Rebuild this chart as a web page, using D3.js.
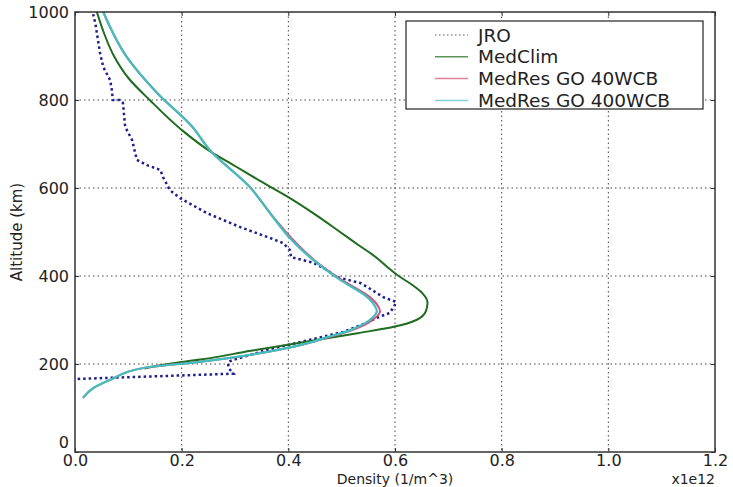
<!DOCTYPE html>
<html>
<head>
<meta charset="utf-8">
<script src="https://cdn.jsdelivr.net/npm/d3@7"></script>
<style>
  body { margin: 0; background: #fff; }
  svg { display: block; font-family: "DejaVu Sans", sans-serif; }
</style>
</head>
<body>
<div id="chart"></div>
<script>
// density values are in units of 1e12 per m^3, altitude in km
var jroAlt = [166, 170, 174, 178, 182, 193, 205, 209, 232, 259, 273, 295, 305, 316, 330, 341, 352, 375, 384, 398, 414, 430, 443, 459, 475, 489, 511, 543, 577, 595, 625, 641, 652, 664, 709, 739, 793, 800, 800, 823, 845, 875, 906, 952, 975, 995];
var jroDen = [0.005, 0.10, 0.20, 0.297, 0.294, 0.287, 0.288, 0.296, 0.36, 0.454, 0.503, 0.55, 0.566, 0.59, 0.598, 0.602, 0.578, 0.548, 0.535, 0.49, 0.472, 0.447, 0.405, 0.403, 0.39, 0.36, 0.31, 0.247, 0.197, 0.178, 0.165, 0.16, 0.135, 0.116, 0.107, 0.094, 0.09, 0.084, 0.071, 0.069, 0.066, 0.053, 0.047, 0.041, 0.038, 0.034];

var climAlt = [190, 200, 210, 230, 250, 270, 285, 300, 320, 340, 360, 380, 400, 420, 441, 470, 500, 540, 577, 616, 650, 682, 732, 800, 850, 900, 950, 1000];
var climDen = [0.13, 0.175, 0.235, 0.33, 0.43, 0.53, 0.60, 0.64, 0.658, 0.661, 0.652, 0.632, 0.607, 0.586, 0.566, 0.532, 0.497, 0.45, 0.403, 0.347, 0.30, 0.255, 0.20, 0.14, 0.10, 0.073, 0.055, 0.041];

var go400Alt = [123, 145, 164, 191, 205, 243, 260, 277, 290, 307, 320, 330, 352, 391, 436, 486, 534, 602, 686, 739, 816, 898, 1000];
var go400Den = [0.015, 0.034, 0.066, 0.128, 0.234, 0.422, 0.47, 0.516, 0.54, 0.559, 0.566, 0.563, 0.548, 0.497, 0.447, 0.403, 0.371, 0.328, 0.253, 0.22, 0.154, 0.097, 0.053];

var go40Alt = go400Alt;
var go40Den = [0.015, 0.034, 0.066, 0.128, 0.234, 0.424, 0.473, 0.52, 0.545, 0.565, 0.572, 0.569, 0.553, 0.50, 0.449, 0.406, 0.372, 0.328, 0.253, 0.22, 0.154, 0.097, 0.053];

var xTicks = [0, 0.2, 0.4, 0.6, 0.8, 1.0, 1.2];
var yTicks = [0, 200, 400, 600, 800, 1000];

var margin = {top: 12, left: 75, bottom: 35, right: 18},
    width = 733 - margin.left - margin.right,
    height = 487 - margin.top - margin.bottom;

var svg = d3.select("#chart")
    .append("svg")
        .attr("width", 733)
        .attr("height", 487)
    .append("g")
        .attr("transform", "translate(" + margin.left + "," + margin.top + ")");

var x = d3.scaleLinear().domain([0, 1.2]).range([0, width]);
var y = d3.scaleLinear().domain([0, 1000]).range([height, 0]);

// grid
svg.selectAll(".vgrid")
    .data(xTicks.slice(1, -1))
    .enter().append("line")
        .attr("x1", function(d) { return x(d); })
        .attr("x2", function(d) { return x(d); })
        .attr("y1", 0).attr("y2", height)
        .style("stroke", "#444").style("stroke-width", 1)
        .style("stroke-dasharray", "1.5,3");
svg.selectAll(".hgrid")
    .data(yTicks.slice(1, -1))
    .enter().append("line")
        .attr("y1", function(d) { return y(d); })
        .attr("y2", function(d) { return y(d); })
        .attr("x1", 0).attr("x2", width)
        .style("stroke", "#444").style("stroke-width", 1)
        .style("stroke-dasharray", "1.5,3");

function pts(alt, den) {
    return alt.map(function(a, i) { return [den[i], a]; });
}

var smooth = d3.line()
    .x(function(d) { return x(d[0]); })
    .y(function(d) { return y(d[1]); })
    .curve(d3.curveMonotoneY);
var straight = d3.line()
    .x(function(d) { return x(d[0]); })
    .y(function(d) { return y(d[1]); });

svg.append("path")
    .attr("d", straight(pts(jroAlt, jroDen)))
    .style("fill", "none").style("stroke", "#1e1e8e")
    .style("stroke-width", 2.5).style("stroke-dasharray", "2.5,3");
svg.append("path")
    .attr("d", smooth(pts(climAlt, climDen)))
    .style("fill", "none").style("stroke", "#1f6b1f").style("stroke-width", 2);
svg.append("path")
    .attr("d", smooth(pts(go40Alt, go40Den)))
    .style("fill", "none").style("stroke", "#d9507a").style("stroke-width", 2);
svg.append("path")
    .attr("d", smooth(pts(go400Alt, go400Den)))
    .style("fill", "none").style("stroke", "#3fbfbf").style("stroke-width", 2.2);

// axes with inward ticks on all sides
var ax = svg.append("g").attr("transform", "translate(0," + height + ")")
    .call(d3.axisBottom(x).tickValues(xTicks).tickSizeInner(-4).tickSizeOuter(0).tickPadding(8)
        .tickFormat(d3.format(".1f")));
var ay = svg.append("g")
    .call(d3.axisLeft(y).tickValues(yTicks).tickSizeInner(-4).tickSizeOuter(0).tickPadding(6)
        .tickFormat(d3.format("d")));
var at = svg.append("g")
    .call(d3.axisTop(x).tickValues(xTicks).tickSizeInner(-4).tickSizeOuter(0).tickFormat(""));
var ar = svg.append("g").attr("transform", "translate(" + width + ",0)")
    .call(d3.axisRight(y).tickValues(yTicks).tickSizeInner(-4).tickSizeOuter(0).tickFormat(""));
[ax, ay, at, ar].forEach(function(a) {
    a.select(".domain").remove();
    a.selectAll("line").style("stroke", "#333");
    a.selectAll("text").style("font-size", "16px").style("fill", "#222")
        .style("font-family", "DejaVu Sans, sans-serif");
});
ax.selectAll("text").attr("dy", "0.4em");
ay.selectAll("text").filter(function(d) { return d === 0; }).attr("dy", "-0.3em");

svg.append("rect")
    .attr("width", width).attr("height", height)
    .style("fill", "none").style("stroke", "#333").style("stroke-width", 1.5);

// labels
svg.append("text")
    .attr("x", width / 2).attr("y", height + 32)
    .attr("text-anchor", "middle")
    .style("font-size", "14px").style("fill", "#222")
    .text("Density (1/m^3)");
svg.append("text")
    .attr("x", width).attr("y", height + 32)
    .attr("text-anchor", "end")
    .style("font-size", "14px").style("fill", "#222")
    .text("x1e12");
svg.append("text")
    .attr("transform", "translate(-53," + (height / 2) + ") rotate(-90)")
    .attr("text-anchor", "middle")
    .style("font-size", "15px").style("fill", "#222")
    .text("Altitude (km)");

// legend
var legendNames = ["JRO", "MedClim", "MedRes GO 40WCB", "MedRes GO 400WCB"];
var legendColors = ["#8a8ab8", "#5a945a", "#e0809c", "#7fd0d0"];
var lg = svg.append("g").attr("transform", "translate(" + (406 - margin.left) + "," + (21 - margin.top) + ")");
lg.append("rect")
    .attr("width", 297).attr("height", 88)
    .style("fill", "#fff").style("stroke", "#222").style("stroke-width", 1.2);
var rows = lg.selectAll(".lrow")
    .data(legendNames)
    .enter().append("g")
        .attr("transform", function(d, i) { return "translate(0," + (14 + i * 21.8) + ")"; });
rows.append("line")
    .attr("x1", 29).attr("x2", 62)
    .style("stroke", function(d, i) { return legendColors[i]; })
    .style("stroke-width", 1.5)
    .style("stroke-dasharray", function(d, i) { return i === 0 ? "1.5,2.5" : null; });
rows.append("text")
    .attr("x", 72).attr("dy", "0.36em")
    .style("font-size", "18.5px").style("fill", "#222")
    .text(function(d) { return d; });
</script>
</body>
</html>
